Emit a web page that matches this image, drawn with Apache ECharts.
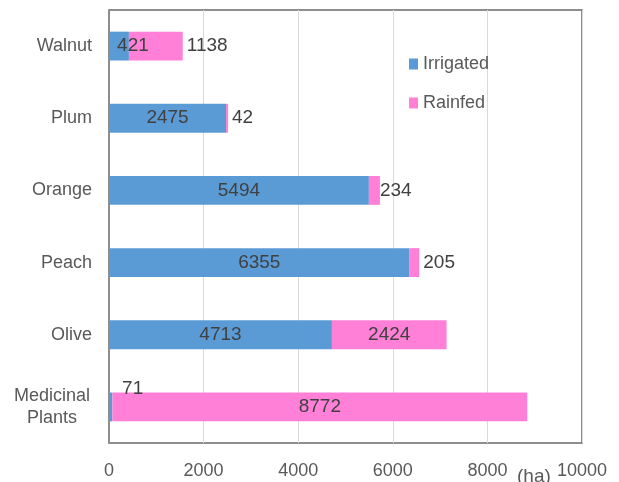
<!DOCTYPE html>
<html>
<head>
<meta charset="utf-8">
<script src="https://cdn.jsdelivr.net/npm/echarts@6/dist/echarts.min.js"></script>
<style>
  html, body { margin: 0; padding: 0; background: #fff; }
  #chart { width: 619px; height: 482px; }
</style>
</head>
<body>
<div id="chart"></div>
<script>
// Cultivated area by crop (ha), irrigated vs rainfed
const categories = ['Walnut', 'Plum', 'Orange', 'Peach', 'Olive', 'Medicinal Plants'];
const irrigated = [421, 2475, 5494, 6355, 4713, 71];
const rainfed = [1138, 42, 234, 205, 2424, 8772];
const xTicks = [0, 2000, 4000, 6000, 8000, 10000];

const FONT = 'Liberation Sans, Arial, sans-serif';
const BLUE = '#5b9bd5';
const PINK = '#ff80d6';
const TEXT = '#404040';

// per-bar label tweaks for short segments
const irrigatedLabelOffsets = { 'Walnut': [14, 0], 'Medicinal Plants': [22, -18] };
const rainfedOutside = { 'Walnut': 4, 'Plum': 4, 'Orange': 0, 'Peach': 4 };

const irrigatedData = irrigated.map((v, i) => {
  const c = categories[i];
  const item = { value: v };
  if (irrigatedLabelOffsets[c]) item.label = { offset: irrigatedLabelOffsets[c] };
  return item;
});
const rainfedData = rainfed.map((v, i) => {
  const c = categories[i];
  const item = { value: v };
  if (c in rainfedOutside) item.label = { position: 'right', distance: rainfedOutside[c] };
  return item;
});

const chart = echarts.init(document.getElementById('chart'), null, { renderer: 'canvas' });
chart.setOption({
  animation: false,
  backgroundColor: '#fff',
  textStyle: { fontFamily: FONT },
  grid: {
    left: 109, right: 37, top: 10, bottom: 39,
    show: true, borderColor: '#6a6a6a', borderWidth: 1.5
  },
  legend: {
    orient: 'vertical',
    left: 404, top: 50,
    itemWidth: 9, itemHeight: 11, itemGap: 21,
    icon: 'rect',
    textStyle: { fontSize: 18, color: '#595959', fontFamily: FONT },
    data: ['Irrigated', 'Rainfed']
  },
  xAxis: {
    type: 'value',
    min: xTicks[0], max: xTicks[xTicks.length - 1], interval: 2000,
    axisLine: { show: false },
    axisTick: { show: false },
    splitLine: { lineStyle: { color: '#d9d9d9', width: 1 } },
    axisLabel: { fontSize: 18, color: '#595959', margin: 19, fontFamily: FONT, formatter: v => String(v) }
  },
  yAxis: {
    type: 'category',
    inverse: true,
    data: categories,
    axisLine: { lineStyle: { color: '#8c8c8c', width: 1 } },
    axisTick: { show: false },
    axisLabel: {
      fontSize: 18, color: '#595959', margin: 17, fontFamily: FONT,
      formatter: v => v.indexOf(' ') > 0 ? v.split(' ').map(s => '{m|' + s + '}').join('\n') : v,
      rich: { m: { width: 80, align: 'center', fontSize: 18, color: '#595959', lineHeight: 22, fontFamily: FONT } }
    }
  },
  series: [
    {
      name: 'Irrigated', type: 'bar', stack: 'total', barWidth: '40%',
      itemStyle: { color: BLUE },
      label: { show: true, position: 'inside', fontSize: 19, color: TEXT, fontFamily: FONT },
      data: irrigatedData
    },
    {
      name: 'Rainfed', type: 'bar', stack: 'total', barWidth: '40%',
      itemStyle: { color: PINK },
      label: { show: true, position: 'inside', fontSize: 19, color: TEXT, fontFamily: FONT },
      data: rainfedData
    }
  ],
  graphic: [
    { type: 'text', left: 517, top: 467, style: { text: '(ha)', fontSize: 19, fill: '#595959', fontFamily: FONT } }
  ]
});
</script>
</body>
</html>
